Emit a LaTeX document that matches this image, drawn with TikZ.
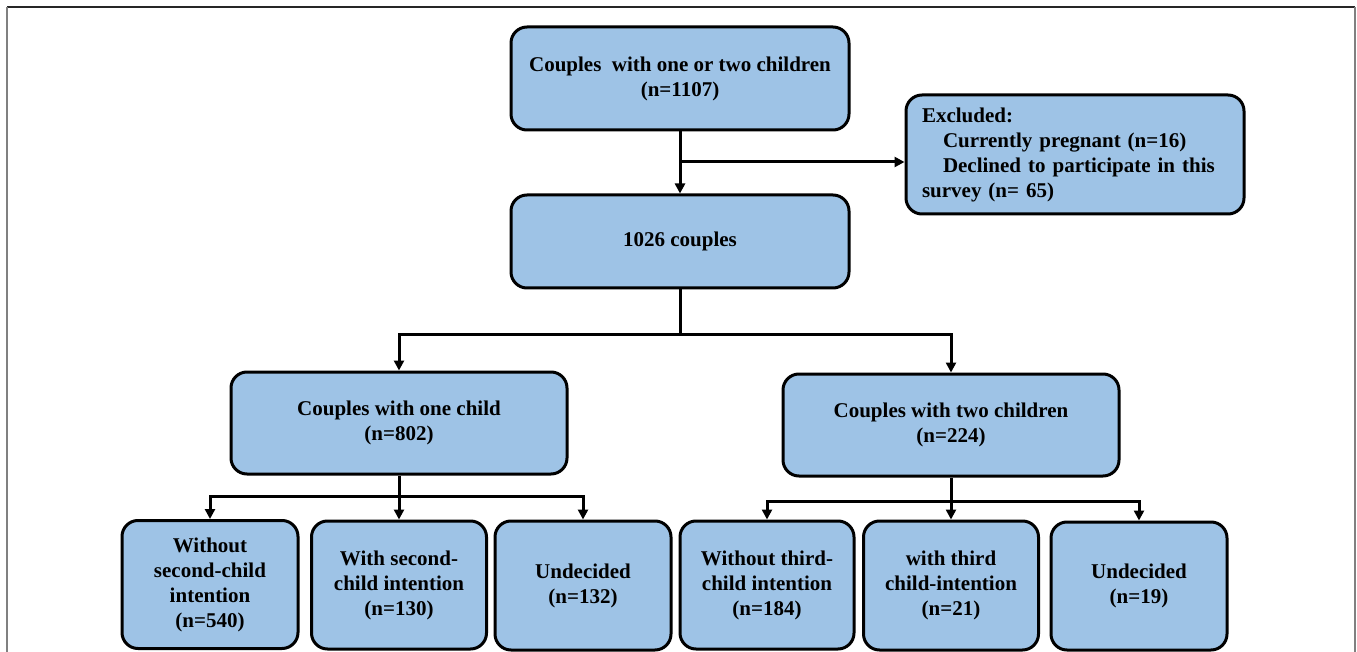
\documentclass[tikz,border=0pt]{standalone}
\usepackage{fontspec}
\setmainfont{Liberation Serif}
\usetikzlibrary{arrows.meta,calc}
\definecolor{boxblue}{RGB}{158,195,230}
\begin{document}
\begin{tikzpicture}[x=1pt,y=-1pt,
  box/.style={draw=black, line width=3pt, fill=boxblue, rounded corners=16pt,
    align=center, inner sep=0pt, font=\fontsize{21}{25}\selectfont\bfseries},
  conn/.style={line width=3pt, draw=black},
  arr/.style={conn, -{Triangle[length=10pt,width=10pt]}}]
\useasboundingbox (0,0) rectangle (1357,652);
% frame
\draw[line width=2pt, draw=black!85] (7,7) -- (1355,7);
\draw[line width=2pt, draw=black!50] (7,7) -- (7,652);
\draw[line width=2pt, draw=black!50] (1355,7) -- (1355,652);
% nodes
\node[box, minimum width=338pt, minimum height=103pt] (top) at (680,78.5)
  {Couples\ \ with one or two children\\(n=1107)};
\node[box, minimum width=338pt, minimum height=119pt, align=left,
  text width=306pt, inner xsep=16pt] (excl) at (1075,154.5)
  {Excluded:\\\hspace*{1.0em}Currently pregnant (n=16)\\\hspace*{1.0em}Declined to participate in this\\survey (n= 65)};
\node[box, minimum width=338pt, minimum height=93pt] (c1026) at (680,241.5) {1026 couples};
\node[box, minimum width=336pt, minimum height=102pt] (one) at (399,423)
  {Couples with one child\\(n=802)};
\node[box, minimum width=336pt, minimum height=102pt] (two) at (951,425)
  {Couples with two children\\(n=224)};
\node[box, minimum width=176pt, minimum height=128pt] (b1) at (210,584.5)
  {Without\\second-child\\intention\\(n=540)};
\node[box, minimum width=175pt, minimum height=128pt] (b2) at (399,585)
  {With second-\\child intention\\(n=130)};
\node[box, minimum width=176pt, minimum height=129pt] (b3) at (583,585.5)
  {Undecided\\(n=132)};
\node[box, minimum width=174pt, minimum height=128pt] (b4) at (767,585)
  {Without third-\\child intention\\(n=184)};
\node[box, minimum width=175pt, minimum height=129pt] (b5) at (951,585.5)
  {with third\\child-intention\\(n=21)};
\node[box, minimum width=176pt, minimum height=128pt] (b6) at (1139,586)
  {Undecided\\(n=19)};
% connectors
\draw[arr] (top.south) -- (c1026.north);
\coordinate (e) at (680,162);
\draw[arr] (e) -- (excl.west |- e);
\coordinate (j0) at ($(c1026.south)+(0,45)$);
\draw[conn] (c1026.south) -- (j0);
\draw[arr] (j0) -| (one.north);
\draw[arr] (j0) -| (two.north);
\coordinate (j1) at ($(one.south)+(0,21)$);
\draw[conn] (one.south) -- (j1);
\draw[arr] (j1) -| (b1.north);
\draw[arr] (j1) -- (b2.north);
\draw[arr] (j1) -| (b3.north);
\coordinate (j2) at ($(two.south)+(0,24)$);
\draw[conn] (two.south) -- (j2);
\draw[arr] (j2) -| (b4.north);
\draw[arr] (j2) -- (b5.north);
\draw[arr] (j2) -| (b6.north);
\end{tikzpicture}
\end{document}
